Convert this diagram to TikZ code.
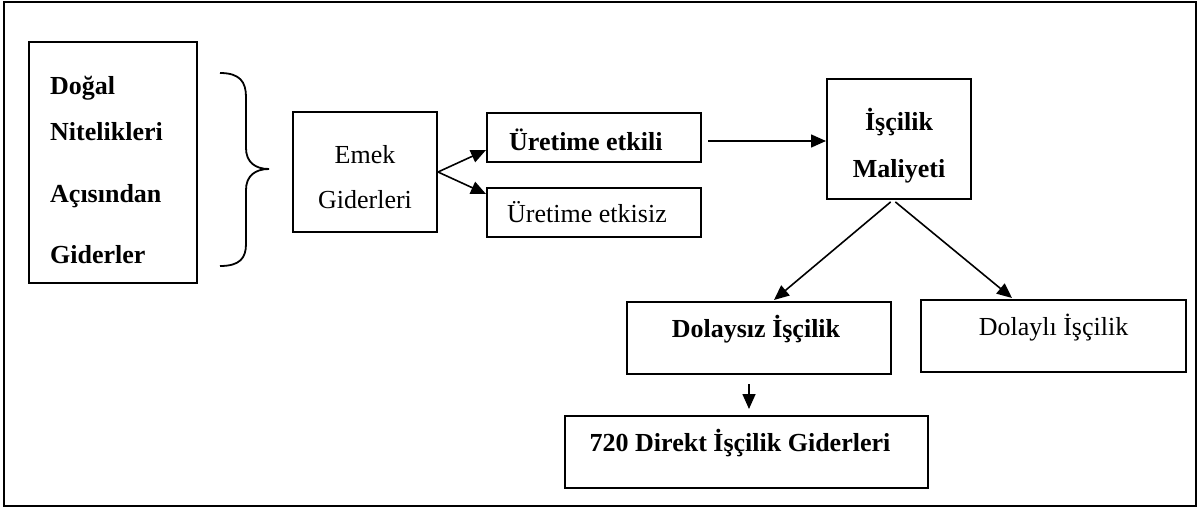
\documentclass[tikz,border=0pt]{standalone}
\usepackage{fontspec}
\setmainfont{Liberation Serif}
\usetikzlibrary{arrows.meta}
\begin{document}
\begin{tikzpicture}[x=1pt,y=-1pt,
  frame/.style={draw,line width=2pt,inner sep=0pt},
  txt/.style={inner sep=0pt,anchor=base,font=\fontsize{26}{30}\selectfont},
  btxt/.style={txt,font=\fontsize{26}{30}\selectfont\bfseries},
  arr/.style={line width=1.6pt,-{Triangle[length=15pt,width=13pt]}},
  brace/.style={line width=1.8pt}]
\useasboundingbox (0,0) rectangle (1199,508);
% outer border
\node[frame,minimum width=1192pt,minimum height=503pt] (outer) at (600,254) {};
% left group
\node[frame,minimum width=168pt,minimum height=241pt] (nat) at (113,162.5) {};
\node[btxt,anchor=base west] (t1) at (50,95) {Doğal};
\node[btxt,anchor=base west] (t2) at (50,140) {Nitelikleri};
\node[btxt,anchor=base west] (t3) at (50,202) {Açısından};
\node[btxt,anchor=base west] (t4) at (50,263) {Giderler};
% curly brace
\coordinate (bt) at (220,73);
\coordinate (bb) at (220,266);
\coordinate (btip) at (269,169);
\draw[brace] (bt) .. controls (240,73) and (246,82) .. (246,97)
  -- (246,148) .. controls (246,162) and (255,169) .. (btip)
  .. controls (255,169) and (246,176) .. (246,190)
  -- (246,244) .. controls (246,258) and (240,266) .. (bb);
% labour costs
\node[frame,minimum width=144pt,minimum height=120pt] (emek) at (365,172) {};
\node[txt] (e1) at (365,163) {Emek};
\node[txt] (e2) at (365,208) {Giderleri};
\node[frame,minimum width=214pt,minimum height=49pt] (ue) at (594,137.5) {};
\node[btxt,anchor=base west] (uet) at (509,150) {Üretime etkili};
\node[frame,minimum width=214pt,minimum height=49pt] (uz) at (594,212.5) {};
\node[txt,anchor=base west] (uzt) at (507,222) {Üretime etkisiz};
\draw[arr] (emek.east) -- (ue.west |- 0,150);
\draw[arr] (emek.east) -- (uz.west |- 0,194);
% labour cost
\node[frame,minimum width=144pt,minimum height=120pt] (isc) at (899,139) {};
\node[btxt] (i1) at (899,131) {İşçilik};
\node[btxt] (i2) at (899,177) {Maliyeti};
\draw[arr,shorten <=6pt] (ue.east |- 0,141) -- (isc.west |- 0,141);
% direct and indirect
\node[frame,minimum width=264pt,minimum height=72pt] (dsz) at (759,338) {};
\node[btxt] (dszt) at (756,337) {Dolaysız İşçilik};
\node[frame,minimum width=265pt,minimum height=72pt] (dly) at (1053.5,336) {};
\node[txt] (dlyt) at (1053.5,335) {Dolaylı İşçilik};
\draw[arr,shorten <=3pt] (isc.south -| 893,0) -- (774,300);
\draw[arr,shorten <=3pt] (isc.south -| 893,0) -- (1012,298);
% account 720
\node[frame,minimum width=363pt,minimum height=72pt] (acc) at (746.5,452) {};
\node[btxt] (acct) at (740,451) {720 Direkt İşçilik Giderleri};
\draw[arr,shorten <=9pt,shorten >=6pt] (dsz.south -| 749,0) -- (acc.north -| 749,0);
\end{tikzpicture}
\end{document}
